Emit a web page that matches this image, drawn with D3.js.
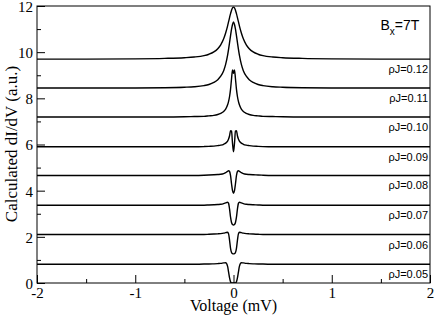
<!DOCTYPE html>
<html>
<head>
<meta charset="utf-8">
<script src="https://cdn.jsdelivr.net/npm/d3@7"></script>
<style>
  body { margin: 0; background: #fff; }
  text { -webkit-user-select: none; user-select: none; }
</style>
</head>
<body>
<script>
  // voltage grid (mV), denser near zero bias
  const voltage = [-2, -1.5, -1, -0.7, -0.5, -0.4, -0.3, -0.25, -0.2, -0.16, -0.13, -0.1, -0.08, -0.06, -0.05, -0.04, -0.03, -0.02, -0.01,
    0, 0.01, 0.02, 0.03, 0.04, 0.05, 0.06, 0.08, 0.1, 0.13, 0.16, 0.2, 0.25, 0.3, 0.4, 0.5, 0.7, 1, 1.5, 2]

  // calculated dI/dV curves (offset)
  const rj012 = [9.70, 9.70, 9.71, 9.73, 9.76, 9.79, 9.85, 9.91, 10.01, 10.15, 10.32, 10.58, 10.83, 11.14, 11.32, 11.50, 11.67, 11.82, 11.92,
    11.95, 11.92, 11.82, 11.67, 11.50, 11.32, 11.14, 10.83, 10.58, 10.32, 10.15, 10.01, 9.91, 9.85, 9.79, 9.76, 9.73, 9.71, 9.70, 9.70]
  const rj011 = [8.45, 8.45, 8.45, 8.46, 8.48, 8.5, 8.55, 8.6, 8.69, 8.81, 8.96, 9.2, 9.47, 9.87, 10.13, 10.42, 10.72, 11.0, 11.2,
    11.31, 11.2, 11.0, 10.72, 10.42, 10.13, 9.87, 9.47, 9.2, 8.96, 8.81, 8.69, 8.6, 8.55, 8.5, 8.48, 8.46, 8.45, 8.45, 8.45]
  const rj010 = [7.19, 7.19, 7.19, 7.19, 7.2, 7.21, 7.22, 7.24, 7.26, 7.3, 7.35, 7.43, 7.53, 7.72, 7.87, 8.08, 8.4, 8.85, 9.23,
    9.08, 9.23, 8.85, 8.4, 8.08, 7.87, 7.72, 7.53, 7.43, 7.35, 7.3, 7.26, 7.24, 7.22, 7.21, 7.2, 7.19, 7.19, 7.19, 7.19]
  const rj009 = [5.9, 5.9, 5.9, 5.9, 5.9, 5.9, 5.91, 5.92, 5.93, 5.95, 5.97, 6.01, 6.06, 6.15, 6.24, 6.38, 6.6, 6.58, 6.05,
    5.68, 6.05, 6.58, 6.6, 6.38, 6.24, 6.15, 6.06, 6.01, 5.97, 5.95, 5.93, 5.92, 5.91, 5.9, 5.9, 5.9, 5.9, 5.9, 5.9]
  const rj008 = [4.66, 4.66, 4.66, 4.66, 4.66, 4.66, 4.67, 4.68, 4.69, 4.7, 4.71, 4.74, 4.78, 4.84, 4.86, 4.83, 4.65, 4.3, 4.0,
    3.89, 4.0, 4.3, 4.65, 4.83, 4.86, 4.84, 4.78, 4.74, 4.71, 4.7, 4.69, 4.68, 4.67, 4.66, 4.66, 4.66, 4.66, 4.66, 4.66]
  const rj007 = [3.37, 3.37, 3.37, 3.37, 3.37, 3.37, 3.37, 3.38, 3.39, 3.4, 3.41, 3.44, 3.47, 3.5, 3.45, 3.2, 2.85, 2.62, 2.53,
    2.51, 2.53, 2.62, 2.85, 3.2, 3.45, 3.5, 3.47, 3.44, 3.41, 3.4, 3.39, 3.38, 3.37, 3.37, 3.37, 3.37, 3.37, 3.37, 3.37]
  const rj006 = [2.1, 2.1, 2.1, 2.1, 2.1, 2.1, 2.1, 2.11, 2.12, 2.13, 2.14, 2.16, 2.18, 2.2, 2.13, 1.85, 1.5, 1.32, 1.27,
    1.26, 1.27, 1.32, 1.5, 1.85, 2.13, 2.2, 2.18, 2.16, 2.14, 2.13, 2.12, 2.11, 2.1, 2.1, 2.1, 2.1, 2.1, 2.1, 2.1]
  const rj005 = [0.81, 0.81, 0.81, 0.81, 0.81, 0.81, 0.82, 0.82, 0.83, 0.84, 0.85, 0.87, 0.88, 0.72, 0.47, 0.22, 0.05, 0, 0,
    0, 0, 0, 0.05, 0.22, 0.47, 0.72, 0.88, 0.87, 0.85, 0.84, 0.83, 0.82, 0.82, 0.81, 0.81, 0.81, 0.81, 0.81, 0.81]

  const labels = ["ρJ=0.12", "ρJ=0.11", "ρJ=0.10", "ρJ=0.09", "ρJ=0.08", "ρJ=0.07", "ρJ=0.06", "ρJ=0.05"]
  const curves = [rj012, rj011, rj010, rj009, rj008, rj007, rj006, rj005]

  const xTicks = [-2, -1, 0, 1, 2]
  const xMinor = [-1.5, -0.5, 0.5, 1.5]
  const yTicks = [0, 2, 4, 6, 8, 10, 12]
  const yMinor = [1, 3, 5, 7, 9, 11]

  let [w, h] = [436, 316]
  let m = { left: 37, right: 6, top: 6, bottom: 33 }
  const serif = "'Liberation Serif', 'DejaVu Serif', serif"
  const sans = "'Liberation Sans', Arial, sans-serif"

  var svg = d3.select("body").append("svg")
    .attr("width", w)
    .attr("height", h)

  var x = d3.scaleLinear().domain([-2, 2]).range([m.left, w - m.right])
  var y = d3.scaleLinear().domain([0, 12]).range([h - m.bottom, m.top])

  svg.append("clipPath").attr("id", "plot")
    .append("rect")
    .attr("x", x(-2)).attr("y", y(12))
    .attr("width", x(2) - x(-2)).attr("height", y(0) - y(12))

  var line = d3.line()
    .x((d, i) => x(voltage[i]))
    .y(d => y(d))
    .curve(d3.curveMonotoneX)

  svg.append("g").attr("clip-path", "url(#plot)")
    .selectAll("path")
    .data(curves)
    .join("path")
    .attr("d", line)
    .attr("fill", "none")
    .attr("stroke", "#000")
    .attr("stroke-width", 1.4)

  // minor ticks first, majors on top; all ticks point inward
  svg.append("g").attr("transform", `translate(0,${y(0)})`)
    .call(d3.axisBottom(x).tickValues(xMinor).tickSize(-4).tickFormat(""))
  svg.append("g").attr("transform", `translate(${x(-2)},0)`)
    .call(d3.axisLeft(y).tickValues(yMinor).tickSize(-4).tickFormat(""))

  var gx = svg.append("g").attr("transform", `translate(0,${y(0)})`)
    .call(d3.axisBottom(x).tickValues(xTicks).tickSize(-8).tickPadding(4)
      .tickFormat(d => d < 0 ? "-" + Math.abs(d) : String(d)))
  var gy = svg.append("g").attr("transform", `translate(${x(-2)},0)`)
    .call(d3.axisLeft(y).tickValues(yTicks).tickSize(-8).tickPadding(4).tickFormat(d3.format("d")))

  svg.selectAll(".domain").remove()
  svg.selectAll(".tick line").attr("stroke", "#000")
  for (const g of [gx, gy]) {
    g.style("font-family", serif).style("font-size", "15px")
    g.selectAll(".tick text")
      .style("font-family", serif)
      .style("font-size", "15px")
      .attr("fill", "#000")
  }
  gy.selectAll(".tick text").attr("dy", "0.36em")

  // frame
  svg.append("rect")
    .attr("x", x(-2)).attr("y", y(12))
    .attr("width", x(2) - x(-2)).attr("height", y(0) - y(12))
    .attr("fill", "none")
    .attr("stroke", "#000")
    .attr("stroke-width", 1)

  // curve labels, right aligned just below each baseline
  svg.append("g")
    .selectAll("text")
    .data(curves)
    .join("text")
    .style("font-family", sans)
    .style("font-size", "11px")
    .attr("x", x(2) - 2)
    .attr("y", d => y(d[0]) + 14)
    .attr("text-anchor", "end")
    .text((d, i) => labels[i])

  var bx = svg.append("text")
    .style("font-family", sans)
    .style("font-size", "14px")
    .attr("x", 380.5)
    .attr("y", 29.5)
  bx.append("tspan").text("B")
  bx.append("tspan").style("font-size", "10px").attr("dy", 5).text("x")
  bx.append("tspan").attr("dy", -5).text("=7T")

  svg.append("text")
    .style("font-family", serif)
    .style("font-size", "16px")
    .attr("x", (x(-2) + x(2)) / 2)
    .attr("y", 311)
    .attr("text-anchor", "middle")
    .text("Voltage (mV)")

  svg.append("text")
    .style("font-family", serif)
    .style("font-size", "17px")
    .attr("transform", `translate(17,144) rotate(-90)`)
    .attr("text-anchor", "middle")
    .text("Calculated dI/dV (a.u.)")
</script>
</body>
</html>
